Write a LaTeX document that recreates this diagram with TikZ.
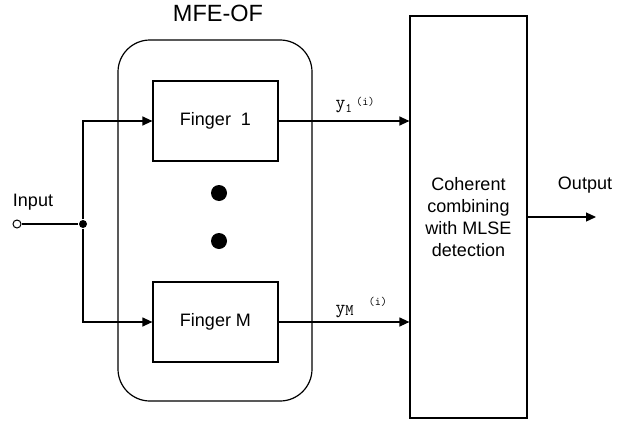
\documentclass[tikz,border=0pt]{standalone}
\usepackage{fontspec}
\setmainfont{Liberation Sans}
\usetikzlibrary{arrows.meta}
\begin{document}
\begin{tikzpicture}[x=1pt,y=-1pt,
  line width=1.2pt,
  blk/.style={draw, minimum width=125pt, minimum height=80pt, inner sep=0pt,
    font=\fontsize{18}{22}\selectfont},
  arr/.style={-{Triangle[length=10pt,width=9pt]}},
  lbl/.style={font=\fontsize{18}{22}\selectfont, inner sep=0pt},
  sig/.style={font=\ttfamily\fontsize{19}{19}\selectfont, inner sep=0pt, anchor=base west},
  dotb/.style={circle, fill, inner sep=0pt, minimum size=16pt}]
\useasboundingbox (0,0) rectangle (639,420);
% MFE-OF group
\node[draw, rounded corners=32pt, minimum width=194pt, minimum height=361pt, inner sep=0pt] (mfe) at (215,220.5) {};
\node[font=\fontsize{23.5}{26}\selectfont, inner sep=0pt] (mfelbl) at (218,13) {MFE-OF};
\node[blk] (f1) at (215.5,121) {Finger\ \ 1};
\node[blk] (fM) at (215.5,322) {Finger M};
\node[dotb] (d1) at (219,193) {};
\node[dotb] (d2) at (219,241) {};
% combiner
\node[draw, minimum width=117pt, minimum height=402pt, inner sep=0pt, align=center,
  font=\fontsize{18}{22}\selectfont] (cc) at (468.5,217) {Coherent\\combining\\with MLSE\\detection};
% input
\node[circle, draw, fill=white, inner sep=0pt, minimum size=8pt, line width=1pt] (in) at (17,224) {};
\node[circle, fill, inner sep=0pt, minimum size=8pt] (j) at (83,224) {};
\node[lbl] (inlbl) at (33,202) {Input};
\draw (in) -- (j);
\draw[arr] (j) |- (f1.west);
\draw[arr] (j) |- (fM.west);
% finger outputs
\draw[arr] (f1.east) -- (f1.east -| cc.west);
\draw[arr] (fM.east) -- (fM.east -| cc.west);
\node[sig] (y1) at (335,108.5) {y\raisebox{-3.5pt}{\fontsize{13}{13}\selectfont 1}\hspace{4pt}\raisebox{3.5pt}{\fontsize{12}{12}\selectfont (i)}};
\node[sig] (yM) at (335,313) {y\raisebox{-2pt}{\fontsize{16}{16}\selectfont M}\hspace{15pt}\raisebox{8pt}{\fontsize{12}{12}\selectfont (i)}};
% output
\coordinate (out) at (596,217);
\draw[arr] (cc.east) -- (out);
\node[lbl] (outlbl) at (585,185) {Output};
\end{tikzpicture}
\end{document}
